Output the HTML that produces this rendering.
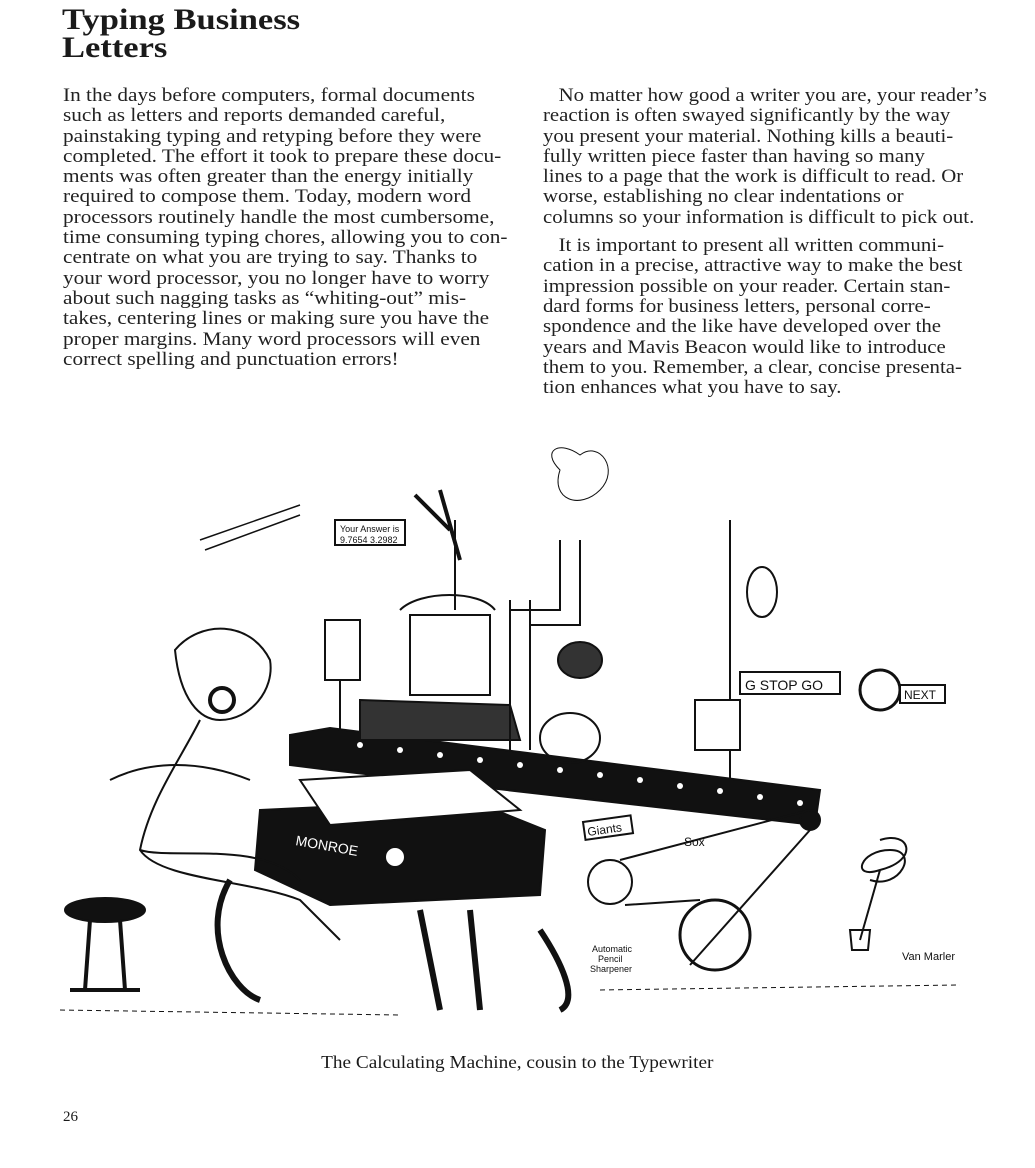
<!DOCTYPE html>
<html><head><meta charset="utf-8"><style>
html,body{margin:0;padding:0;background:#fff;}
body{width:1035px;height:1168px;position:relative;overflow:hidden;font-family:"Liberation Serif",serif;color:#1a1a1a;}
.t{position:absolute;left:62px;font-weight:bold;font-size:30px;line-height:28px;top:6px;transform:scaleX(1.15);transform-origin:left top;}
.col{position:absolute;font-size:19px;line-height:20.3px;white-space:nowrap;transform:scaleX(1.12);transform-origin:left top;color:#222;}
.col div{height:20.3px;}
.cap{position:absolute;top:1052px;left:0;width:1035px;text-align:center;font-size:17.5px;}
.cap span{display:inline-block;transform:scaleX(1.1);}
.pn{position:absolute;left:63px;top:1109px;font-size:15px;}
svg{position:absolute;left:0;top:0;}
</style></head><body>
<div class="t">Typing Business<br>Letters</div>
<div class="col" style="left:63px;top:86px;">
<div>In the days before computers, formal documents</div>
<div>such as letters and reports demanded careful,</div>
<div>painstaking typing and retyping before they were</div>
<div>completed. The effort it took to prepare these docu-</div>
<div>ments was often greater than the energy initially</div>
<div>required to compose them. Today, modern word</div>
<div>processors routinely handle the most cumbersome,</div>
<div>time consuming typing chores, allowing you to con-</div>
<div>centrate on what you are trying to say. Thanks to</div>
<div>your word processor, you no longer have to worry</div>
<div>about such nagging tasks as “whiting-out” mis-</div>
<div>takes, centering lines or making sure you have the</div>
<div>proper margins. Many word processors will even</div>
<div>correct spelling and punctuation errors!</div>
</div>
<div class="col" style="left:543px;top:86px;transform:scaleX(1.095);">
<div>&nbsp;&nbsp;&nbsp;No matter how good a writer you are, your reader’s</div>
<div>reaction is often swayed significantly by the way</div>
<div>you present your material. Nothing kills a beauti-</div>
<div>fully written piece faster than having so many</div>
<div>lines to a page that the work is difficult to read. Or</div>
<div>worse, establishing no clear indentations or</div>
<div>columns so your information is difficult to pick out.</div>
<div style="height:8px"></div>
<div>&nbsp;&nbsp;&nbsp;It is important to present all written communi-</div>
<div>cation in a precise, attractive way to make the best</div>
<div>impression possible on your reader. Certain stan-</div>
<div>dard forms for business letters, personal corre-</div>
<div>spondence and the like have developed over the</div>
<div>years and Mavis Beacon would like to introduce</div>
<div>them to you. Remember, a clear, concise presenta-</div>
<div>tion enhances what you have to say.</div>
</div>
<svg width="1035" height="1168" viewBox="0 0 1035 1168" fill="none" stroke="#111" stroke-width="2">
<polygon points="290,735 330,728 820,790 815,825 330,770 290,765" fill="#111"/>
<g fill="#fff" stroke="none">
<circle cx="360" cy="745" r="3"/><circle cx="400" cy="750" r="3"/><circle cx="440" cy="755" r="3"/><circle cx="480" cy="760" r="3"/><circle cx="520" cy="765" r="3"/><circle cx="560" cy="770" r="3"/><circle cx="600" cy="775" r="3"/><circle cx="640" cy="780" r="3"/><circle cx="680" cy="786" r="3"/><circle cx="720" cy="791" r="3"/><circle cx="760" cy="797" r="3"/><circle cx="800" cy="803" r="3"/>
</g>
<polygon points="260,810 470,800 545,830 540,895 330,905 255,870" fill="#111"/>
<text x="295" y="845" font-family="Liberation Sans,sans-serif" font-size="14" fill="#fff" stroke="none" transform="rotate(10 295 845)">MONROE</text>
<circle cx="395" cy="857" r="10" fill="#fff"/>
<polygon points="300,780 470,770 520,810 330,825" fill="#fff"/>
<path d="M175,650 C200,620 250,620 270,660 C275,690 250,720 220,720 C200,720 180,700 175,650Z"/>
<circle cx="222" cy="700" r="12" stroke-width="4"/>
<path d="M200,720 C180,760 150,800 140,850 C160,880 250,880 300,900 L340,940 M140,850 C170,860 260,840 300,880"/>
<path d="M110,780 C150,760 200,760 250,780"/>
<ellipse cx="105" cy="910" rx="40" ry="12" fill="#111"/>
<path d="M90,920 L85,990 M120,920 L125,990 M70,990 L140,990" stroke-width="4"/>
<rect x="410" y="615" width="80" height="80" fill="#fff"/>
<path d="M400,610 C420,590 480,590 495,610" />
<polygon points="360,700 510,705 520,740 360,740" fill="#333"/>
<path d="M510,600 L510,750 M530,600 L530,750 M560,540 L560,610 L510,610 M580,540 L580,625 L530,625"/>
<path d="M730,520 L730,800 M455,520 L455,610 M340,620 L340,735"/>
<rect x="325" y="620" width="35" height="60" fill="#fff"/>
<rect x="335" y="520" width="70" height="25" fill="#fff"/>
<text x="340" y="532" font-size="9" fill="#111" stroke="none" font-family="Liberation Sans,sans-serif">Your Answer is</text>
<text x="340" y="543" font-size="9" fill="#111" stroke="none" font-family="Liberation Sans,sans-serif">9.7654 3.2982</text>
<ellipse cx="762" cy="592" rx="15" ry="25"/>
<rect x="740" y="672" width="100" height="22" fill="#fff"/>
<text x="745" y="690" font-size="14" fill="#111" stroke="none" font-family="Liberation Sans,sans-serif">G  STOP  GO</text>
<circle cx="880" cy="690" r="20" stroke-width="3"/>
<rect x="900" y="685" width="45" height="18" fill="#fff"/>
<text x="904" y="699" font-size="12" fill="#111" stroke="none" font-family="Liberation Sans,sans-serif">NEXT</text>
<rect x="695" y="700" width="45" height="50" fill="#fff"/>
<ellipse cx="570" cy="738" rx="30" ry="25"/>
<ellipse cx="580" cy="660" rx="22" ry="18" fill="#333"/>
<rect x="583" y="822" width="48" height="18" fill="#fff" transform="rotate(-8 583 822)"/>
<text x="588" y="836" font-size="12" fill="#111" stroke="none" font-family="Liberation Sans,sans-serif" transform="rotate(-8 588 836)">Giants</text>
<text x="684" y="846" font-size="12" fill="#111" stroke="none" font-family="Liberation Sans,sans-serif">Sox</text>
<circle cx="610" cy="882" r="22"/>
<circle cx="715" cy="935" r="35" stroke-width="3"/>
<path d="M625,905 L700,900 M620,860 L810,810 M690,965 L810,830"/>
<circle cx="810" cy="820" r="10" fill="#111"/>
<path d="M880,840 C910,830 920,860 880,870 C850,880 860,850 890,850 C920,850 900,890 870,880 M880,870 L860,940"/>
<path d="M850,930 L870,930 L868,950 L852,950Z"/>
<text x="592" y="952" font-size="9" fill="#111" stroke="none" font-family="Liberation Sans,sans-serif">Automatic</text>
<text x="598" y="962" font-size="9" fill="#111" stroke="none" font-family="Liberation Sans,sans-serif">Pencil</text>
<text x="590" y="972" font-size="9" fill="#111" stroke="none" font-family="Liberation Sans,sans-serif">Sharpener</text>
<text x="902" y="960" font-size="11" fill="#111" stroke="none" font-family="Liberation Sans,sans-serif">Van Marler</text>
<path d="M420,910 L440,1010 M470,910 L480,1010 M230,880 C200,930 230,990 260,1000 M540,930 C560,960 580,1000 560,1010" stroke-width="6"/>
<path d="M60,1010 L400,1015 M600,990 L960,985" stroke-width="1" stroke-dasharray="5 4"/>
<path d="M200,540 L300,505 M205,550 L300,515" stroke-width="1.5"/>
<path d="M560,470 C540,450 560,440 580,455 C600,440 620,470 600,490 C580,510 550,500 560,470Z" stroke-width="1"/>
<path d="M415,495 L450,530 M440,490 L460,560" stroke-width="4"/>
</svg>
<div class="cap"><span>The Calculating Machine, cousin to the Typewriter</span></div>
<div class="pn">26</div>
</body></html>
